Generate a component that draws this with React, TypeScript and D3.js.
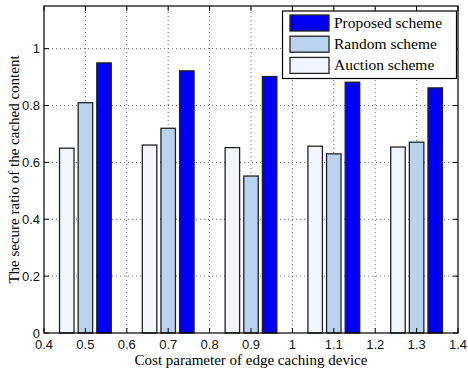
import React from "react";
import * as d3 from "d3";

// Cost parameter values (group centres on the x axis)
const costParams = [0.5, 0.7, 0.9, 1.1, 1.3];
const seriesNames = ["Auction scheme", "Random scheme", "Proposed scheme"];
const auctionValues = [0.65, 0.661, 0.652, 0.657, 0.654];
const randomValues = [0.81, 0.72, 0.552, 0.63, 0.671];
const proposedValues = [0.95, 0.922, 0.902, 0.882, 0.862];
const xTicks = [0.4, 0.5, 0.6, 0.7, 0.8, 0.9, 1, 1.1, 1.2, 1.3, 1.4];
const yTicks = [0, 0.2, 0.4, 0.6, 0.8, 1];
const legendOrder = ["Proposed scheme", "Random scheme", "Auction scheme"];

const fills: Record<string, string> = {
  "Auction scheme": "#f2f6fc",
  "Random scheme": "#b9d3ef",
  "Proposed scheme": "#0000f6",
};

const W = 468;
const H = 370;
const margin = { left: 44, right: 10, top: 6, bottom: 37 };

export default function App() {
  const x = d3.scaleLinear().domain([0.4, 1.4]).range([margin.left, W - margin.right]);
  const y = d3.scaleLinear().domain([0, 1.15]).range([H - margin.bottom, margin.top]);
  const valuesBySeries = [auctionValues, randomValues, proposedValues];
  const offset = 0.045;
  const barW = x(0.435) - x(0.4);
  const x0 = margin.left;
  const x1 = W - margin.right;
  const y0 = H - margin.bottom;
  const y1 = margin.top;
  const tickFont = "'Liberation Sans', Arial, sans-serif";
  const labelFont = "'Liberation Serif', 'Times New Roman', serif";

  return (
    <svg width={W} height={H} style={{ position: "absolute", left: 0, top: 0, background: "#fff" }}>
      {/* grid */}
      <g stroke="#444" strokeWidth={0.8} strokeDasharray="1 3">
        {xTicks.slice(1, -1).map((t) => (
          <line key={"gx" + t} x1={x(t)} x2={x(t)} y1={y0} y2={y1} />
        ))}
        {yTicks.slice(1).map((t) => (
          <line key={"gy" + t} x1={x0} x2={x1} y1={y(t)} y2={y(t)} />
        ))}
      </g>
      {/* bars */}
      {valuesBySeries.map((vals, si) => (
        <g key={seriesNames[si]}>
          {vals.map((v, i) => {
            const cx = x(costParams[i] + (si - 1) * offset);
            return (
              <rect
                key={i}
                x={cx - barW / 2}
                y={y(v)}
                width={barW}
                height={y0 - y(v)}
                fill={fills[seriesNames[si]]}
                stroke="#222"
                strokeWidth={1.3}
              />
            );
          })}
        </g>
      ))}
      {/* axes box */}
      <rect x={x0} y={y1} width={x1 - x0} height={y0 - y1} fill="none" stroke="#000" strokeWidth={1.2} />
      <g stroke="#000" strokeWidth={1}>
        {xTicks.map((t) => (
          <g key={"tx" + t}>
            <line x1={x(t)} x2={x(t)} y1={y0} y2={y0 - 5} />
            <line x1={x(t)} x2={x(t)} y1={y1} y2={y1 + 5} />
          </g>
        ))}
        {yTicks.map((t) => (
          <g key={"ty" + t}>
            <line x1={x0} x2={x0 + 5} y1={y(t)} y2={y(t)} />
            <line x1={x1} x2={x1 - 5} y1={y(t)} y2={y(t)} />
          </g>
        ))}
      </g>
      {/* tick labels */}
      <g fontFamily={tickFont} fontSize={13} fill="#111">
        {xTicks.map((t) => (
          <text key={"lx" + t} x={x(t)} y={y0 + 16} textAnchor="middle">
            {d3.format("")(t)}
          </text>
        ))}
        {yTicks.map((t) => (
          <text key={"ly" + t} x={x0 - 4} y={y(t) + 4.5} textAnchor="end">
            {d3.format("")(t)}
          </text>
        ))}
      </g>
      {/* axis titles */}
      <text
        x={(x0 + x1) / 2}
        y={H - 5}
        textAnchor="middle"
        fontFamily={labelFont}
        fontSize={15}
        fill="#000"
      >
        Cost parameter of edge caching device
      </text>
      <text
        transform={`translate(19, ${(y0 + y1) / 2}) rotate(-90)`}
        textAnchor="middle"
        fontFamily={labelFont}
        fontSize={15}
        fill="#000"
      >
        The secure ratio of the cached content
      </text>
      {/* legend */}
      <g>
        <rect x={282.5} y={11} width={174} height={67.5} fill="#fff" stroke="#000" strokeWidth={1.2} />
        {legendOrder.map((name, i) => (
          <g key={name} transform={`translate(290, ${15 + i * 21.2})`}>
            <rect x={0} y={0} width={39} height={16} fill={fills[name]} stroke="#222" strokeWidth={1.3} />
            <text x={44} y={13} fontFamily={labelFont} fontSize={15.5} fill="#000">
              {name}
            </text>
          </g>
        ))}
      </g>
    </svg>
  );
}
